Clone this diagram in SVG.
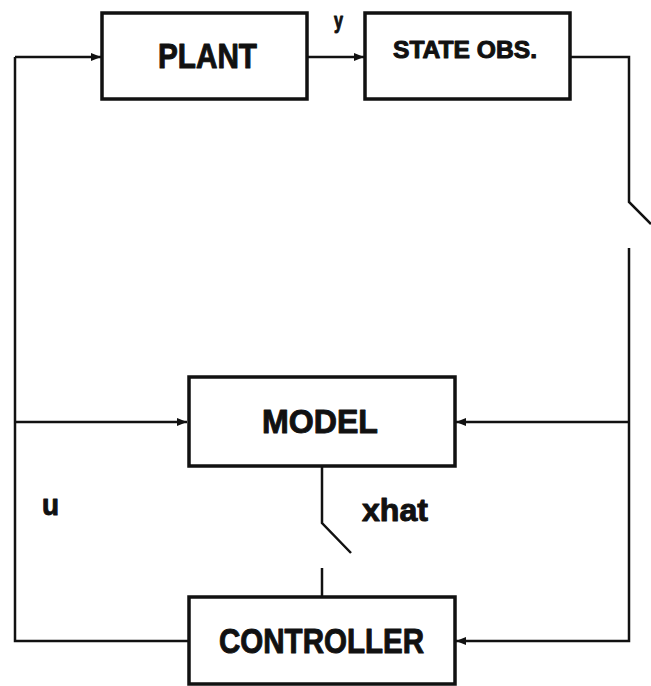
<svg xmlns="http://www.w3.org/2000/svg" width="651" height="686" viewBox="0 0 651 686">
<style>
.box{fill:#fff;stroke:#111;stroke-width:3.5}
.ln{fill:none;stroke:#111;stroke-width:2.5}
.t{font-family:"Liberation Sans",Arial,sans-serif;font-weight:bold;fill:#111;stroke:#111;stroke-width:1;stroke-linejoin:round}
</style>
<defs>
<marker id="ah" markerWidth="10" markerHeight="8" refX="10" refY="4" orient="auto" markerUnits="userSpaceOnUse">
<path d="M0,0 L10,4 L0,8 Z" fill="#111"/>
</marker>
</defs>
<rect width="651" height="686" fill="#fff"/>
<g id="connectors">
<path class="ln" d="M15,57 H101" marker-end="url(#ah)"/>
<path class="ln" d="M15,57 V641 H189"/>
<path class="ln" d="M15,422 H187" marker-end="url(#ah)"/>
<path class="ln" d="M308,57 H364" marker-end="url(#ah)"/>
<path class="ln" d="M571,57 H629 V202 L651,224"/>
<path class="ln" d="M629,248 V641 H456" marker-end="url(#ah)"/>
<path class="ln" d="M629,422 H456" marker-end="url(#ah)"/>
<path class="ln" d="M322,467 V523 L351,553"/>
<path class="ln" d="M322,568 V597"/>
</g>
<g id="plant">
<rect class="box" x="102" y="13" width="205" height="86"/>
<text class="t" x="158" y="68" font-size="35" textLength="99" lengthAdjust="spacingAndGlyphs">PLANT</text>
</g>
<g id="state-obs">
<rect class="box" x="365" y="13" width="205" height="86"/>
<text class="t" x="393" y="58" font-size="24" textLength="144" lengthAdjust="spacingAndGlyphs">STATE OBS.</text>
</g>
<g id="model">
<rect class="box" x="189" y="377" width="266" height="89"/>
<text class="t" x="262" y="433" font-size="34" textLength="116" lengthAdjust="spacingAndGlyphs">MODEL</text>
</g>
<g id="controller">
<rect class="box" x="189" y="597" width="266" height="87"/>
<text class="t" x="219" y="653" font-size="35" textLength="205" lengthAdjust="spacingAndGlyphs">CONTROLLER</text>
</g>
<g id="labels">
<text class="t" x="334" y="28" font-size="22" textLength="9" lengthAdjust="spacingAndGlyphs">y</text>
<text class="t" x="362" y="521" font-size="32" textLength="66" lengthAdjust="spacingAndGlyphs">xhat</text>
<text class="t" x="42" y="515" font-size="30" textLength="17" lengthAdjust="spacingAndGlyphs">u</text>
</g>
</svg>
